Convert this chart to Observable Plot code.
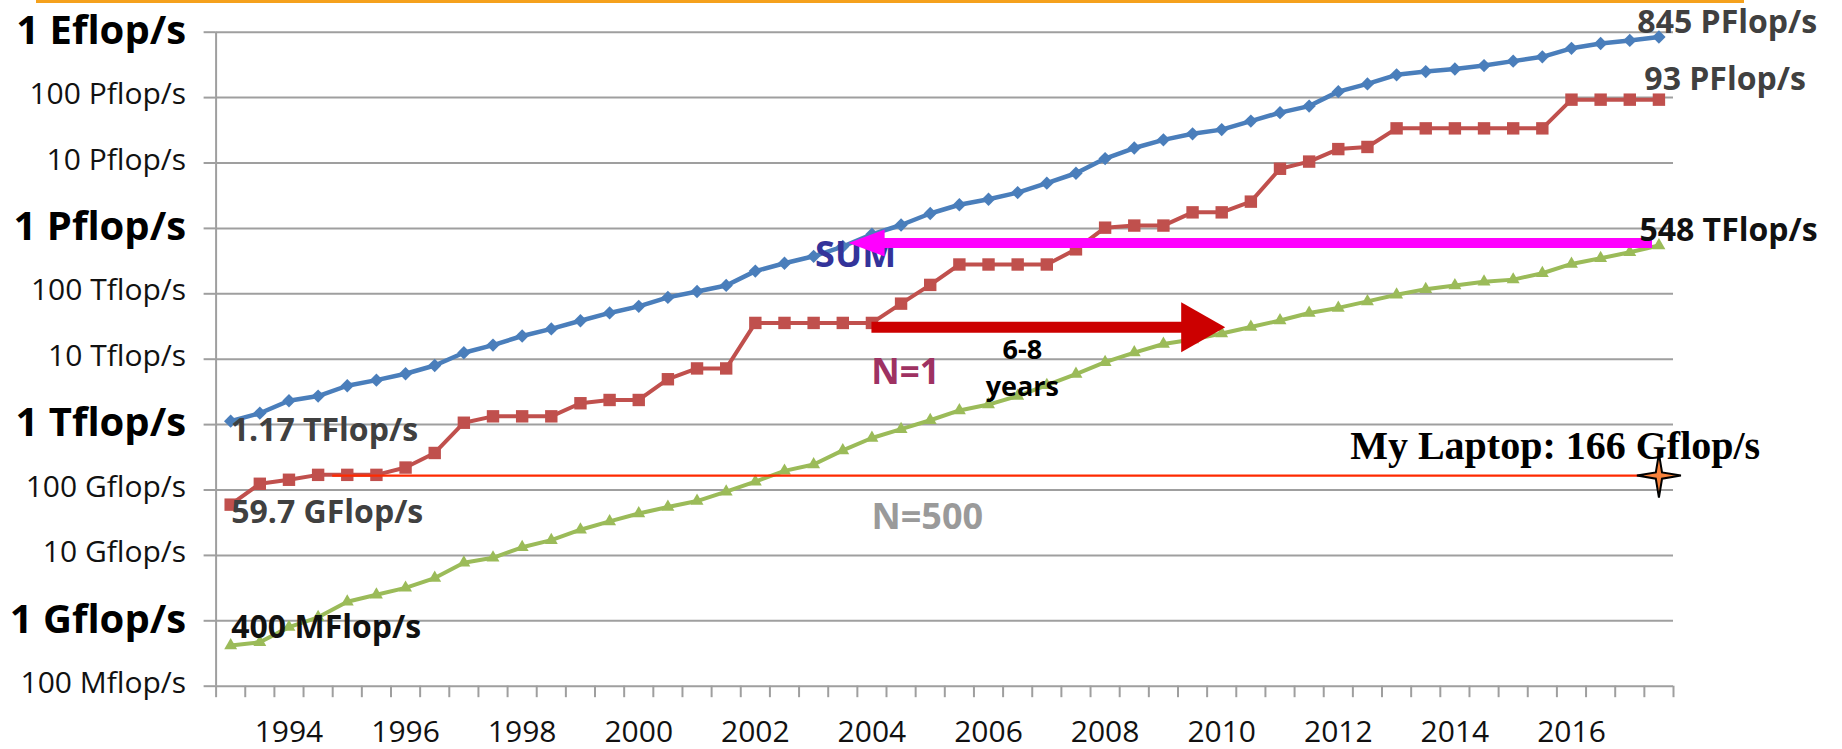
<!DOCTYPE html>
<html><head><meta charset="utf-8">
<script src="https://cdn.jsdelivr.net/npm/d3@7"></script>
<script src="https://cdn.jsdelivr.net/npm/@observablehq/plot@0.6"></script>
<style>
html,body{margin:0;padding:0;background:#fff;}
#wrap{position:relative;width:1842px;height:749px;overflow:hidden;background:#fff;}
#topline{position:absolute;left:36px;top:0;width:1708px;height:3px;background:#F5A11C;}
g[aria-label="value labels"] text{filter:drop-shadow(3px 4px 3px rgba(0,0,0,0.6));}
</style></head><body><div id="wrap"><div id="topline"></div></div>
<script>
// TOP500 list dates (June / November lists)
const listDates = [1993,1993.5,1994,1994.5,1995,1995.5,1996,1996.5,1997,1997.5,1998,1998.5,1999,1999.5,2000,2000.5,2001,2001.5,2002,2002.5,2003,2003.5,2004,2004.5,2005,2005.5,2006,2006.5,2007,2007.5,2008,2008.5,2009,2009.5,2010,2010.5,2011,2011.5,2012,2012.5,2013,2013.5,2014,2014.5,2015,2015.5,2016,2016.5,2017,2017.5];
// values in Gflop/s
const sumGF = [1128.57,1493.35,2317,2732,3927,4784,5995,8010,12538,16454,22624,29081,38695,50974,64312,88100,108453,134297,222207,292890,374570,528110,813060,1127000,1690000,2300000,2790000,3530000,4920000,6970000,11700000,16950000,22600000,27950000,32400000,43700000,58900000,74200000,123400000,162000000,223000000,250000000,274000000,309000000,361000000,420000000,567000000,672000000,749000000,845000000];
const n1GF = [59.7,124.5,143.4,170.4,170.4,170.4,220.4,368.2,1068,1338,1338,1338,2121,2379,2379,4938,7226,7226,35860,35860,35860,35860,35860,70720,136800,280600,280600,280600,280600,478200,1026000,1105000,1105000,1759000,1759000,2566000,8162000,10510000,16320000,17590000,33860000,33860000,33860000,33860000,33860000,33860000,93010000,93010000,93010000,93010000];
const n500GF = [0.42,0.47,0.8,1.13,1.96,2.5,3.19,4.5,7.7,9.2,13.3,17.1,24.7,33.1,43.8,55.1,67.8,94.3,134,196,245,403,624,851,1166,1646,2026,2737,4005,5929,9000,12640,17090,20050,24670,31120,39090,50940,60820,76500,96620,117800,133700,153400,164700,206300,286100,349300,432200,548700];

const decadeTicks = [0.1,1,10,100,1e3,1e4,1e5,1e6,1e7,1e8,1e9];
const decadeLabels = ["100 Mflop/s","1 Gflop/s","10 Gflop/s","100 Gflop/s","1 Tflop/s","10 Tflop/s","100 Tflop/s","1 Pflop/s","10 Pflop/s","100 Pflop/s","1 Eflop/s"];
const boldTicks = [1,1e3,1e6,1e9];
const regularTicks = [0.1,10,100,1e4,1e5,1e7,1e8];
const yearTicks = [1994,1996,1998,2000,2002,2004,2006,2008,2010,2012,2014,2016];

// annotation texts and their anchor points (year, Gflop/s)
const valueLabels = [
  {text:"845 PFlop/s", t:2017.13, v:1.41e9, fill:"#404040"},
  {text:"93 PFlop/s", t:2017.25, v:1.89e8, fill:"#404040"},
  {text:"548 TFlop/s", t:2017.165, v:9.29e5, fill:"#111111"},
  {text:"1.17 TFlop/s", t:1993.0, v:798, fill:"#404040"},
  {text:"59.7 GFlop/s", t:1993.01, v:45.3, fill:"#404040"},
  {text:"400 MFlop/s", t:1993.01, v:0.776, fill:"#111111"}
];
const laptopGF = 166;
const laptopFrom = 1994.75, laptopTo = 2017.5;
const magentaArrow = {v:6.0e5, tip:2003.6, tail:2017.39};
const redArrow = {v:3.08e4, tail:2004.0, tip:2010.06};

const rows = listDates.map((t,i)=>({t, sum:sumGF[i], n1:n1GF[i], n500:n500GF[i]}));
const minorTicks = d3.range(51).map(k => 1992.75 + k/2);

const star4 = {draw(ctx,size){const R=Math.sqrt(size/Math.PI), r0=R*0.2;
  for(let k=0;k<8;k++){const a=k*Math.PI/4-Math.PI/2, rr=k%2?r0:R; const px=rr*Math.cos(a), py=rr*Math.sin(a); k?ctx.lineTo(px,py):ctx.moveTo(px,py);} ctx.closePath();}};
const headLeft = {draw(ctx,size){const L=Math.sqrt(size/Math.PI); ctx.moveTo(0,0); ctx.lineTo(L,-L*0.375); ctx.lineTo(L,L*0.375); ctx.closePath();}};
const headRight = {draw(ctx,size){const L=Math.sqrt(size/Math.PI); ctx.moveTo(0,0); ctx.lineTo(-L,-L*0.568); ctx.lineTo(-L,L*0.568); ctx.closePath();}};

const grid = "#9f9f9f";
const chart = Plot.plot({
  width:1842, height:749,
  marginLeft:215.6, marginRight:169, marginTop:31.7, marginBottom:63.3,
  style:{fontFamily:"'Open Sans', sans-serif", background:"transparent", overflow:"visible"},
  x:{type:"linear", domain:[1992.75,2017.75], axis:null},
  y:{type:"log", domain:[0.1,1e9], axis:null},
  marks:[
    Plot.gridY(decadeTicks, {stroke:grid, strokeOpacity:1, strokeWidth:2}),
    Plot.axisY(decadeTicks, {tickSize:12, tickPadding:0, tickFormat:()=>"", stroke:grid, strokeWidth:2}),
    Plot.axisY(regularTicks, {tickSize:0, tickPadding:30, dy:-3, tickFormat:d=>decadeLabels[decadeTicks.indexOf(d)], fontSize:30, fill:"#111"}),
    Plot.axisY(boldTicks, {tickSize:0, tickPadding:30, dy:-1, tickFormat:d=>decadeLabels[decadeTicks.indexOf(d)], fontSize:40, fontWeight:"bold", fill:"#000"}),
    Plot.ruleX([1992.75], {y1:0.1, y2:1e9, stroke:grid, strokeWidth:2}),
    Plot.axisX(minorTicks, {tickSize:11.5, tickPadding:0, tickFormat:()=>"", stroke:grid, strokeWidth:2}),
    Plot.axisX(yearTicks, {tickSize:0, tickPadding:34, tickFormat:d=>String(d), fontSize:30, fill:"#111"}),

    Plot.line(rows, {x:"t", y:"sum", stroke:"#4A7EBB", strokeWidth:4.5}),
    Plot.dot(rows, {x:"t", y:"sum", symbol:"diamond2", r:6, fill:"#4A7EBB", stroke:"none"}),
    Plot.line(rows, {x:"t", y:"n1", stroke:"#C0504D", strokeWidth:4}),
    Plot.dot(rows, {x:"t", y:"n1", symbol:"square", r:7, fill:"#C0504D", stroke:"none"}),
    Plot.line(rows, {x:"t", y:"n500", stroke:"#9BBB59", strokeWidth:4}),
    Plot.dot(rows, {x:"t", y:"n500", symbol:"triangle", r:4.8, fill:"#9BBB59", stroke:"none"}),

    Plot.ruleY([laptopGF], {x1:laptopFrom, x2:laptopTo, stroke:"#FF2A00", strokeWidth:2.2}),
    Plot.dot([laptopGF], {x:laptopTo, y:d=>d, symbol:star4, r:22, fill:"#F7823C", stroke:"#000", strokeWidth:2}),
    Plot.text(["My Laptop: 166 Gflop/s"], {x:2015.72, y:471, text:d=>d, fontFamily:"'Liberation Serif', 'Times New Roman', serif", fontWeight:"bold", fontSize:40, fill:"#000"}),

    Plot.text(["SUM"], {x:2003.72, y:3.86e5, text:d=>d, fontSize:36, fontWeight:"bold", fill:"#33339a"}),
    Plot.text(["N=1"], {x:2004.575, y:6150, text:d=>d, fontSize:35, fontWeight:"bold", fill:"#9E3262"}),
    Plot.text(["N=500"], {x:2004.95, y:38.4, text:d=>d, fontSize:36, fontWeight:"bold", fill:"#9a9a9a"}),
    Plot.text(["6-8\nyears"], {x:2006.58, y:8010, text:d=>d, fontSize:27, fontWeight:"bold", fill:"#000", lineHeight:1.37}),

    Plot.ruleY([magentaArrow], {y:"v", x1:d=>d.tip+0.4, x2:"tail", stroke:"#FF00FF", strokeWidth:10}),
    Plot.dot([magentaArrow], {x:"tip", y:"v", symbol:headLeft, r:36, fill:"#FF00FF", stroke:"none"}),
    Plot.ruleY([redArrow], {y:"v", x1:"tail", x2:d=>d.tip-0.5, stroke:"#CC0000", strokeWidth:11}),
    Plot.dot([redArrow], {x:"tip", y:"v", symbol:headRight, r:44, fill:"#CC0000", stroke:"none"}),

    Plot.text(valueLabels, {x:"t", y:"v", text:"text", fill:"fill", textAnchor:"start", fontSize:32, fontWeight:"bold", ariaLabel:"value labels"})
  ]
});
document.getElementById("wrap").appendChild(chart);
chart.style.position="absolute"; chart.style.left="0"; chart.style.top="0";
</script></body></html>
